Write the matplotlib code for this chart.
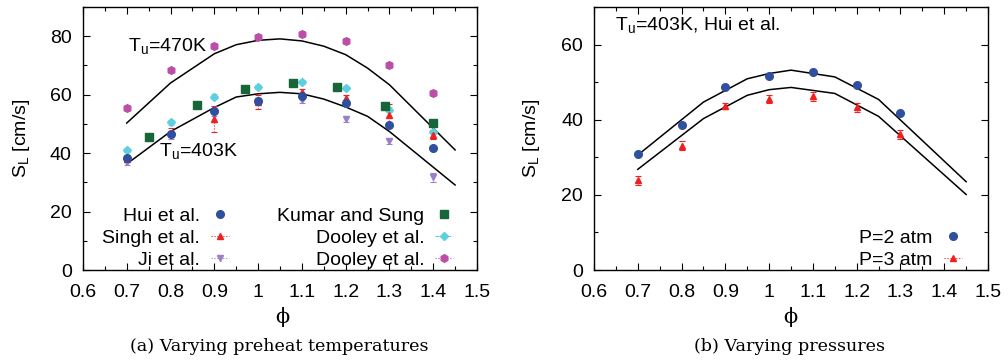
import matplotlib
matplotlib.use("Agg")
import matplotlib.pyplot as plt
import numpy as np
from matplotlib.lines import Line2D
from matplotlib.ticker import MultipleLocator

plt.rcParams['font.family'] = ['Liberation Sans', 'DejaVu Sans']
plt.rcParams['mathtext.fontset'] = 'custom'
plt.rcParams['mathtext.rm'] = 'Liberation Sans'

# ---- (a) preheat temperatures ----
phi = [0.7, 0.8, 0.9, 1.0, 1.1, 1.2, 1.3, 1.4]
hui = [38.5, 46.5, 54.5, 58.0, 59.6, 57.1, 49.5, 41.6]
singh = [38.0, 47.0, 51.8, 57.5, 60.8, 58.9, 52.9, 46.3]
singh_err = [1.0, 1.5, 4.5, 2.5, 1.0, 1.0, 4.0, 1.5]
ji = [36.9, 46.0, 53.7, 58.0, 58.3, 51.8, 44.0, 31.7]
ji_err = [1.0, 1.0, 1.0, 1.0, 1.0, 1.0, 1.0, 1.5]
kumar_phi = [0.75, 0.86, 0.97, 1.08, 1.18, 1.29, 1.40]
kumar = [45.5, 56.5, 61.9, 64.0, 62.6, 56.0, 50.3]
dooley_c = [41.1, 50.5, 59.3, 62.6, 64.3, 62.3, 54.9, 47.2]
dooley_c_err = [0.8, 0.8, 0.8, 0.8, 0.8, 0.8, 0.8, 0.8]
dooley_m = [55.4, 68.3, 76.8, 79.8, 80.8, 78.3, 70.3, 60.6]
dooley_m_err = [1.0, 1.0, 1.0, 0.8, 1.0, 1.0, 1.0, 1.0]

curve_phi = [0.7, 0.8, 0.9, 0.95, 1.0, 1.05, 1.1, 1.15, 1.2, 1.25, 1.3, 1.45]
curve_470 = [50.3, 64.0, 74.0, 77.1, 78.6, 79.1, 78.4, 76.6, 73.7, 69.1, 63.4, 41.1]
curve_403 = [36.3, 47.4, 55.6, 59.2, 60.3, 60.8, 60.3, 58.5, 55.8, 52.6, 47.4, 29.1]

# ---- (b) pressures ----
phi_b = [0.7, 0.8, 0.9, 1.0, 1.1, 1.2, 1.3]
p2 = [30.9, 38.7, 48.6, 51.6, 52.8, 49.2, 41.8]
p3 = [23.9, 33.1, 43.7, 45.5, 46.3, 43.3, 36.1]
p3_err = [1.2, 1.2, 0.8, 1.0, 1.2, 1.2, 1.2]
curve_phi_b = [0.7, 0.85, 0.95, 1.0, 1.05, 1.15, 1.25, 1.45]
curve_p2 = [30.6, 44.7, 50.9, 52.3, 53.2, 51.4, 45.4, 23.5]
curve_p3 = [26.8, 40.3, 46.5, 48.0, 48.6, 47.0, 40.9, 20.1]

blue = '#2f4f9f'
red = '#f02020'
purple = '#9a80c8'
green = '#17663a'
cyan = '#5ccfe0'
magenta = '#bb4fa6'

FS = 14

fig = plt.figure(figsize=(10.08, 3.64), dpi=100)
ax1 = fig.add_axes([0.0823, 0.2582, 0.3909, 0.7225])
ax2 = fig.add_axes([0.5893, 0.2582, 0.3909, 0.7225])


def errpts(ax, x, y, err, color, marker, ms, ls=':'):
    eb = ax.errorbar(x, y, yerr=err, fmt=marker, color=color, ms=ms,
                     elinewidth=0.8, capsize=2.5, capthick=0.8, zorder=3)
    eb[2][0].set_linestyle(ls)
    return eb


ax1.plot(curve_phi, curve_470, color='black', lw=1.1, zorder=2)
ax1.plot(curve_phi, curve_403, color='black', lw=1.1, zorder=2)
errpts(ax1, phi, dooley_m, dooley_m_err, magenta, 'h', 5.5)
errpts(ax1, phi, dooley_c, dooley_c_err, cyan, 'D', 4, ls='--')
errpts(ax1, phi, ji, ji_err, purple, 'v', 5)
errpts(ax1, phi, singh, singh_err, red, '^', 5)
ax1.plot(phi, hui, 'o', color=blue, ms=5.5, ls='none', zorder=4)
ax1.plot(kumar_phi, kumar, 's', color=green, ms=5.5, ls='none', zorder=4)

ax1.text(0.703, 76.5, r'T$_\mathregular{u}$=470K', fontsize=FS, va='center', ha='left')
ax1.text(0.773, 40.5, r'T$_\mathregular{u}$=403K', fontsize=FS, va='center', ha='left')

h1 = [
    Line2D([], [], color=blue, marker='o', ls='none', ms=5.5),
    Line2D([], [], color=red, marker='^', ls=':', lw=0.8, ms=5),
    Line2D([], [], color=purple, marker='v', ls=':', lw=0.8, ms=5),
    Line2D([], [], color=green, marker='s', ls='none', ms=5.5),
    Line2D([], [], color=cyan, marker='D', ls='--', lw=0.8, ms=4),
    Line2D([], [], color=magenta, marker='h', ls=':', lw=0.8, ms=5.5),
]
l1 = ['Hui et al.', 'Singh et al.', 'Ji et al.', 'Kumar and Sung', 'Dooley et al.', 'Dooley et al.']
ax1.legend(h1, l1, ncol=2, markerfirst=False, frameon=False, fontsize=FS,
           loc='lower right', bbox_to_anchor=(0.94, 0.005), handlelength=0.95,
           handletextpad=0.55, labelspacing=0.22, columnspacing=2.45,
           borderaxespad=0, borderpad=0)

ax1.set_xlim(0.6, 1.5)
ax1.set_ylim(0, 90)
ax1.yaxis.set_major_locator(MultipleLocator(20))
ax1.yaxis.set_minor_locator(MultipleLocator(10))
ax1.set_ylabel(r'S$_\mathregular{L}$ [cm/s]', fontsize=FS)
ax1.yaxis.set_label_coords(-0.13, 0.5)

# panel b
ax2.plot(curve_phi_b, curve_p2, color='black', lw=1.1, zorder=2)
ax2.plot(curve_phi_b, curve_p3, color='black', lw=1.1, zorder=2)
errpts(ax2, phi_b, p3, p3_err, red, '^', 5)
ax2.plot(phi_b, p2, 'o', color=blue, ms=5.5, ls='none', zorder=4)
ax2.text(0.648, 65, r'T$_\mathregular{u}$=403K, Hui et al.', fontsize=FS, va='center', ha='left')

h2 = [
    Line2D([], [], color=blue, marker='o', ls='none', ms=5.5),
    Line2D([], [], color=red, marker='^', ls=':', lw=0.8, ms=5),
]
ax2.legend(h2, ['P=2 atm', 'P=3 atm'], markerfirst=False, frameon=False, fontsize=FS,
           loc='lower right', bbox_to_anchor=(0.934, 0.005), handlelength=0.95,
           handletextpad=0.55, labelspacing=0.22, borderaxespad=0, borderpad=0)

ax2.set_xlim(0.6, 1.5)
ax2.set_ylim(0, 70)
ax2.yaxis.set_major_locator(MultipleLocator(20))
ax2.yaxis.set_minor_locator(MultipleLocator(10))
ax2.set_ylabel(r'S$_\mathregular{L}$ [cm/s]', fontsize=FS)
ax2.yaxis.set_label_coords(-0.132, 0.5)

xticks = [0.6, 0.7, 0.8, 0.9, 1.0, 1.1, 1.2, 1.3, 1.4, 1.5]
xlabels = ['0.6', '0.7', '0.8', '0.9', '1', '1.1', '1.2', '1.3', '1.4', '1.5']
for ax in (ax1, ax2):
    ax.set_xticks(xticks)
    ax.set_xticklabels(xlabels)
    ax.xaxis.set_minor_locator(MultipleLocator(0.05))
    ax.tick_params(which='both', direction='in', top=True, right=True, labelsize=FS)
    ax.tick_params(which='major', length=5, width=0.8)
    ax.tick_params(which='minor', length=3, width=0.8)
    ax.tick_params(axis='x', pad=10)
    ax.tick_params(axis='y', pad=8)
    for s in ax.spines.values():
        s.set_linewidth(1.0)

# axis symbols and captions
fig.text(0.28, 0.128, 'ϕ', fontsize=15, ha='center', va='center', family='DejaVu Serif')
fig.text(0.784, 0.128, 'ϕ', fontsize=15, ha='center', va='center', family='DejaVu Serif')
fig.text(0.277, 0.048, '(a) Varying preheat temperatures', fontsize=12.6, ha='center', va='center',
         family='DejaVu Serif')
fig.text(0.783, 0.048, '(b) Varying pressures', fontsize=12.6, ha='center', va='center',
         family='DejaVu Serif')

fig.savefig('out.png', dpi=100)
